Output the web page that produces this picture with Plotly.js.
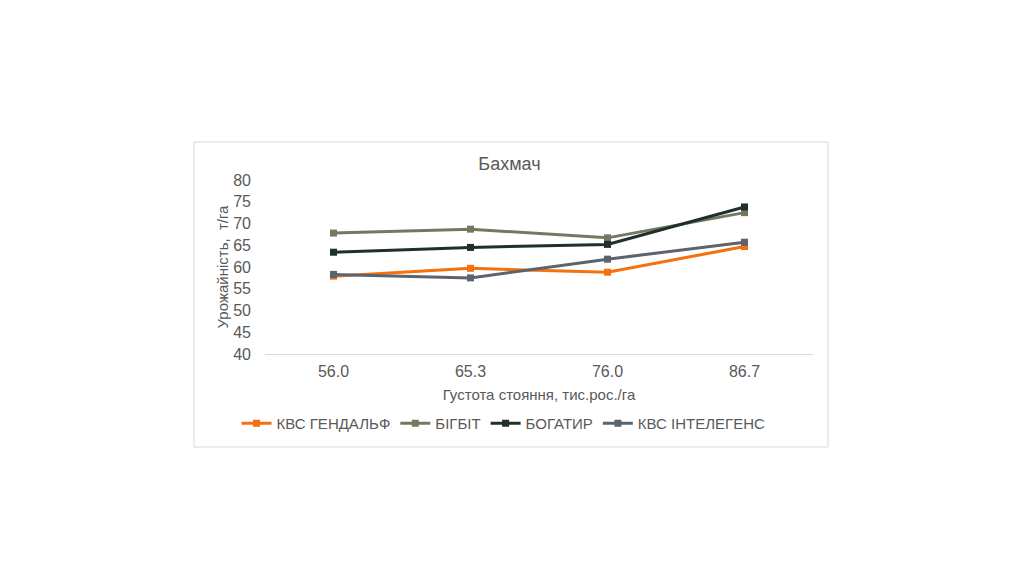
<!DOCTYPE html>
<html><head><meta charset="utf-8">
<script src="https://cdn.plot.ly/plotly-3.0.1.min.js"></script>
<style>html,body{margin:0;padding:0;background:#fff;}#chart{width:1025px;height:588px;}</style>
</head><body><div id="chart"></div>
<script>
var categories = ["56.0", "65.3", "76.0", "86.7"];
var seriesNames = ["КВС ГЕНДАЛЬФ", "БІГБІТ", "БОГАТИР", "КВС ІНТЕЛЕГЕНС"];
var gendalf = [57.9, 59.7, 58.8, 64.7];
var bigbit = [67.8, 68.7, 66.7, 72.5];
var bogatyr = [63.4, 64.5, 65.2, 73.8];
var intelegens = [58.3, 57.5, 61.8, 65.7];
var yTicks = [40, 45, 50, 55, 60, 65, 70, 75, 80];
var colors = ["#f5700f", "#76775f", "#1e2f2c", "#5b636e"];
var values = [gendalf, bigbit, bogatyr, intelegens];

var traces = values.map(function(v, i){
  return {x: categories, y: v, name: seriesNames[i], type: 'scatter', mode: 'lines+markers',
    line: {color: colors[i], width: 3}, marker: {symbol: 'square', size: 7, color: colors[i]}};
});
var font = 'Liberation Sans, Arial, sans-serif';
var layout = {
  width: 1025, height: 588,
  paper_bgcolor: '#ffffff', plot_bgcolor: '#ffffff',
  margin: {l: 265, r: 212, t: 180, b: 234},
  showlegend: true,
  font: {family: font, color: '#595959'},
  title: {text: 'Бахмач', font: {size: 18, color: '#595959', family: font}, x: 0.497, xanchor: 'center', y: 1 - 164/588, yanchor: 'middle'},
  xaxis: {type: 'category', range: [-0.5, 3.5], showgrid: false, zeroline: false, showline: true, linecolor: '#d9d9d9', linewidth: 1,
    ticks: '', tickfont: {size: 16, color: '#595959'}, ticklabelstandoff: 3,
    title: {text: 'Густота стояння, тис.рос./га', font: {size: 15, color: '#595959'}, standoff: 10}},
  yaxis: {range: [40, 80], tickvals: yTicks, showgrid: false, zeroline: false, showline: false, ticks: '',
    tickfont: {size: 16, color: '#595959'}, ticklabelstandoff: 13,
    title: {text: 'Урожайність,  т/га', font: {size: 15, color: '#595959'}, standoff: 0}},
  legend: {orientation: 'h', x: -0.052, xanchor: 'left', y: -0.40, yanchor: 'middle',
    font: {size: 15, color: '#595959'}, itemwidth: 30, tracegroupgap: 0},
  shapes: [{type: 'rect', xref: 'paper', yref: 'paper', x0: -0.1296, x1: 1.0274, y0: -0.5345, y1: 1.2184,
    line: {color: '#d9d9d9', width: 1}, fillcolor: 'rgba(0,0,0,0)', layer: 'below'}]
};
Plotly.newPlot('chart', traces, layout, {displayModeBar: false});
</script></body></html>
